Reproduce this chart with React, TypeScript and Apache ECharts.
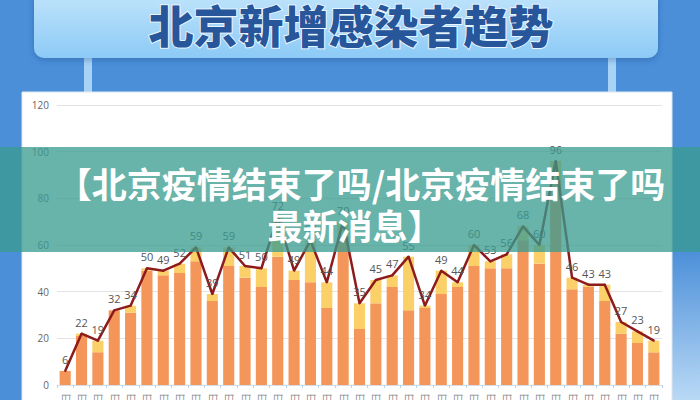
import React, { useEffect, useRef } from "react";
import * as echarts from "echarts";

const categories = [
  "4月22日", "4月23日", "4月24日", "4月25日", "4月26日", "4月27日", "4月28日", "4月29日", "4月30日",
  "5月1日", "5月2日", "5月3日", "5月4日", "5月5日", "5月6日", "5月7日", "5月8日", "5月9日", "5月10日",
  "5月11日", "5月12日", "5月13日", "5月14日", "5月15日", "5月16日", "5月17日", "5月18日", "5月19日",
  "5月20日", "5月21日", "5月22日", "5月23日", "5月24日", "5月25日", "5月26日", "5月27日", "5月28日",
];
const orangeValues = [6, 21, 14, 32, 31, 49, 47, 48, 53, 36, 51, 46, 42, 55, 45, 44, 33, 64, 24, 35, 42, 32, 33, 39, 42, 51, 50, 50, 62, 52, 88, 41, 42, 36, 22, 18, 14];
const yellowValues = [0, 1, 5, 0, 3, 1, 2, 4, 6, 3, 8, 5, 8, 17, 4, 18, 11, 6, 11, 10, 5, 23, 1, 10, 2, 9, 3, 6, 6, 8, 8, 5, 1, 7, 5, 5, 5];
const totalValues = [6, 22, 19, 32, 34, 50, 49, 52, 59, 39, 59, 51, 50, 72, 49, 62, 44, 70, 35, 45, 47, 55, 34, 49, 44, 60, 53, 56, 68, 60, 96, 46, 43, 43, 27, 23, 19];
const yTicks = { min: 0, max: 120, interval: 20 };
const titleText = "北京新增感染者趋势";
const bandLine1 = "【北京疫情结束了吗/北京疫情结束了吗";
const bandLine2 = "最新消息】";

export default function App() {
  const ref = useRef<HTMLDivElement>(null);
  useEffect(() => {
    if (!ref.current) return;
    const chart = echarts.init(ref.current, null, { renderer: "svg" });
    const cjk = "'Noto Sans CJK SC', 'Noto Sans', sans-serif";
    chart.setOption({
      animation: false,
      backgroundColor: "#4b8fd9",
      graphic: [
        {
          type: "rect", z: -20, silent: true,
          shape: { x: 672, y: 250, width: 28, height: 150 },
          style: { fill: new echarts.graphic.LinearGradient(0, 0, 0, 1, [
            { offset: 0, color: "#4b8fd9" }, { offset: 1, color: "#b9d9f5" }]) },
        },
        {
          type: "rect", z: -15, silent: true,
          shape: { x: 84, y: 50, width: 8, height: 44 },
          style: { fill: "#a9d3f6" },
        },
        {
          type: "rect", z: -15, silent: true,
          shape: { x: 608, y: 50, width: 8, height: 44 },
          style: { fill: "#a9d3f6" },
        },
        {
          type: "rect", z: -14, silent: true,
          shape: { x: 34, y: -12, width: 624, height: 70, r: 10 },
          style: {
            fill: new echarts.graphic.LinearGradient(0, 0, 0, 1, [
              { offset: 0, color: "#c4e6fc" }, { offset: 1, color: "#8ccaf6" }]),
            shadowColor: "rgba(20,60,120,0.35)", shadowBlur: 6, shadowOffsetY: 2,
          },
        },
        {
          type: "text", z: -13, silent: true,
          x: 351, y: 24,
          style: {
            text: titleText, fill: "#28569a", font: `900 45px ${cjk}`,
            align: "center", verticalAlign: "middle",
            stroke: "#e8f5ff", lineWidth: 2,
          },
        },
        {
          type: "rect", z: -12, silent: true,
          shape: { x: 22, y: 92, width: 650, height: 320 },
          style: { fill: "#ffffff", stroke: "#dfe6ee", lineWidth: 1 },
        },
        {
          type: "rect", z: 100, silent: true,
          shape: { x: 0, y: 147, width: 700, height: 105 },
          style: { fill: "rgba(56,155,143,0.76)" },
        },
        {
          type: "text", z: 101, silent: true,
          x: 361, y: 182,
          style: {
            text: bandLine1, fill: "#ffffff", font: `bold 35px ${cjk}`,
            align: "center", verticalAlign: "middle",
          },
        },
        {
          type: "text", z: 101, silent: true,
          x: 355, y: 224,
          style: {
            text: bandLine2, fill: "#ffffff", font: `bold 35px ${cjk}`,
            align: "center", verticalAlign: "middle",
          },
        },
      ],
      grid: { left: 57, right: 38, top: 105, bottom: 15, containLabel: false, outerBoundsMode: "none" },
      xAxis: {
        type: "category",
        data: categories,
        axisLine: { lineStyle: { color: "#d5dde6" } },
        axisTick: { show: true, length: 3, lineStyle: { color: "#b9d3ea" } },
        axisLabel: { interval: 0, rotate: 90, fontSize: 10, color: "#8a8a8a", margin: 8, fontFamily: cjk },
      },
      yAxis: {
        type: "value",
        min: yTicks.min, max: yTicks.max, interval: yTicks.interval,
        axisLine: { show: false },
        axisTick: { show: false },
        axisLabel: { color: "#666", fontSize: 10, margin: 8, fontFamily: "'Open Sans', sans-serif" },
        splitLine: { lineStyle: { color: "#e3e3e3", width: 1 } },
      },
      series: [
        {
          type: "bar", stack: "total", data: orangeValues,
          barCategoryGap: "32%",
          itemStyle: { color: "#f4965a" },
        },
        {
          type: "bar", stack: "total", data: yellowValues,
          itemStyle: { color: "#fbd068" },
        },
        {
          type: "line", data: totalValues,
          symbol: "circle", symbolSize: 2, showSymbol: true,
          itemStyle: { color: "#8e1b1b" },
          lineStyle: { color: "#8e1b1b", width: 2.5 },
          z: 5,
          labelLayout: { hideOverlap: false },
          label: {
            show: true, position: "top", distance: 5,
            color: "#555", fontSize: 11, fontFamily: "'Open Sans', sans-serif",
          },
        },
      ],
    });
    return () => chart.dispose();
  }, []);
  return (
    <div
      ref={ref}
      style={{ position: "fixed", left: 0, top: 0, width: 700, height: 400 }}
    />
  );
}
